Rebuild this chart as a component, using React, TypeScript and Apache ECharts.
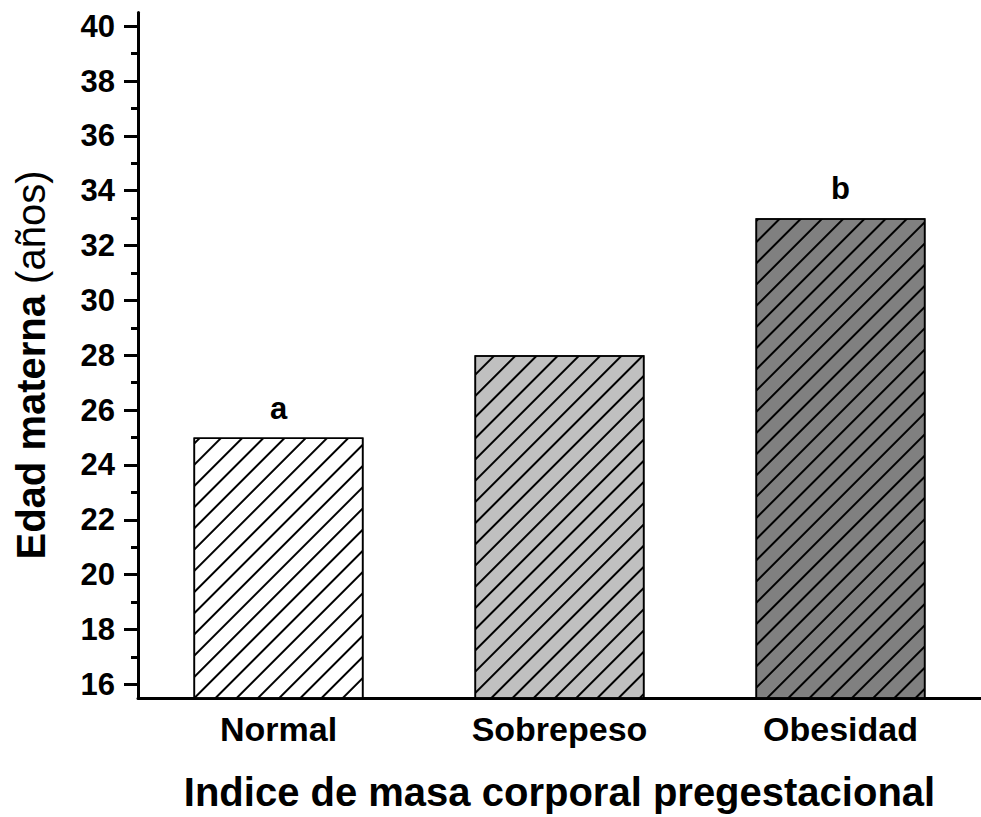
import React, { useEffect, useRef } from "react";
import * as echarts from "echarts";

const categories = ["Normal", "Sobrepeso", "Obesidad"];
const values = [25, 28, 33];
const barColors = ["#FFFFFF", "#C0C0C0", "#808080"];
const barLabels = ["a", "", "b"];
const majorTicks = [16, 18, 20, 22, 24, 26, 28, 30, 32, 34, 36, 38, 40];
const minorTicks = [17, 19, 21, 23, 25, 27, 29, 31, 33, 35, 37, 39];
const yMin = 15.5;
const yMax = 40.5;

const FONT = "Liberation Sans, Arial, sans-serif";

export default function App() {
  const ref = useRef<HTMLDivElement>(null);
  useEffect(() => {
    document.body.style.margin = "0";
    if (!ref.current) return;
    const chart = echarts.init(ref.current, null, { renderer: "svg" });
    const grid = { left: 138, top: 12.5, width: 849, height: 687.5 };
    chart.setOption({
      animation: false,
      backgroundColor: "#FFFFFF",
      grid,
      xAxis: {
        type: "category",
        data: categories,
        axisLine: { show: true, lineStyle: { color: "#000", width: 3 } },
        axisTick: { show: false },
        axisLabel: {
          margin: 14,
          color: "#000",
          fontSize: 34,
          fontWeight: "bold",
          fontFamily: FONT,
        },
        name: "Indice de masa corporal pregestacional",
        nameLocation: "middle",
        nameGap: 74,
        nameTextStyle: {
          color: "#000",
          fontSize: 40,
          fontWeight: "bold",
          fontFamily: FONT,
        },
        splitLine: { show: false },
      },
      yAxis: [
        {
          type: "value",
          min: yMin,
          max: yMax,
          position: "left",
          axisLine: { show: true, lineStyle: { color: "#000", width: 3 } },
          axisTick: {
            show: true,
            length: 14,
            lineStyle: { color: "#000", width: 3 },
            customValues: majorTicks,
          },
          axisLabel: {
            margin: 23,
            color: "#000",
            fontSize: 31,
            fontWeight: "bold",
            fontFamily: FONT,
            customValues: majorTicks,
          },
          splitLine: { show: false },
        },
        {
          type: "value",
          min: yMin,
          max: yMax,
          position: "left",
          axisLine: { show: false },
          axisTick: {
            show: true,
            length: 7,
            lineStyle: { color: "#000", width: 3 },
            customValues: minorTicks,
          },
          axisLabel: { show: false },
          splitLine: { show: false },
        },
      ],
      series: [
        {
          type: "bar",
          yAxisIndex: 0,
          barWidth: 170,
          data: values.map((v, i) => ({
            value: v,
            itemStyle: {
              color: barColors[i],
              borderColor: "#000",
              borderWidth: 1.6,
              decal: {
                symbol: "rect",
                symbolSize: 1,
                color: "#000",
                dashArrayX: [1, 0],
                dashArrayY: [1.2, 12.3],
                rotation: -Math.PI / 4,
              },
            },
            label: {
              show: barLabels[i] !== "",
              formatter: barLabels[i],
            },
          })),
          label: {
            position: "top",
            distance: 14,
            color: "#000",
            fontSize: 31,
            fontWeight: "bold",
            fontFamily: FONT,
          },
        },
      ],
      graphic: [
        {
          type: "text",
          x: 31,
          y: 365,
          rotation: Math.PI / 2,
          style: {
            text: "{b|Edad materna} {r|(años)}",
            align: "center",
            verticalAlign: "middle",
            fill: "#000",
            fontSize: 40,
            fontFamily: FONT,
            rich: {
              b: { fontSize: 40, fontWeight: "bold", fontFamily: FONT, fill: "#000" },
              r: { fontSize: 40, fontWeight: "normal", fontFamily: FONT, fill: "#000" },
            },
          },
        },
      ],
    });
    return () => chart.dispose();
  }, []);
  return <div ref={ref} style={{ width: 981, height: 817 }} />;
}
